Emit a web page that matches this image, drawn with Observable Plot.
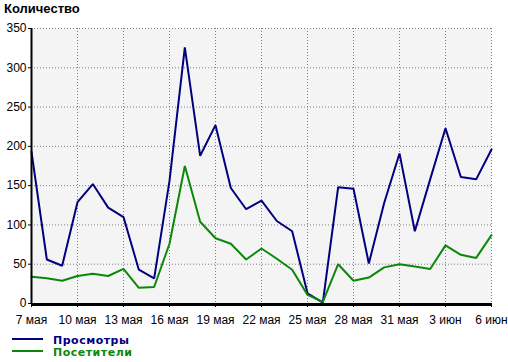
<!DOCTYPE html>
<html>
<head>
<meta charset="utf-8">
<script src="https://cdn.jsdelivr.net/npm/d3@7"></script>
<script src="https://cdn.jsdelivr.net/npm/@observablehq/plot@0.6"></script>
<style>
  html, body { margin: 0; padding: 0; background: #fff; }
  #wrap { position: relative; width: 508px; height: 362px; }
  #title { position: absolute; left: 4px; top: 1px; font: bold 13px "Liberation Sans", Arial, sans-serif; color: #000; }
  .leg { position: absolute; left: 12px; width: 31px; height: 0; border-top: 2px solid; }
  .legt { position: absolute; left: 53px; font: bold 11px "DejaVu Sans", Verdana, sans-serif; letter-spacing: 0.5px; line-height: 11px; height: 11px; }
</style>
</head>
<body>
<div id="wrap"></div>
<script>
const startDate = "2010-05-07";
const endDate = "2010-06-06";
const seriesNames = ["Просмотры", "Посетители"];
const seriesColors = ["#000080", "#0b870b"];
const views = [193,56,48,129,152,122,110,43,32,156,326,188,227,147,120,131,105,92,13,1,148,146,51,128,191,92,158,223,161,158,196];
const visitors = [34,32,29,35,38,35,44,20,21,76,175,104,83,76,56,70,57,43,11,2,50,29,33,46,50,47,44,74,62,58,87];
const yTicks = [0,50,100,150,200,250,300,350];
const xTickLabels = ["7 мая","10 мая","13 мая","16 мая","19 мая","22 мая","25 мая","28 мая","31 мая","3 июн","6 июн"];
const titleText = "Количество";

const start = new Date(startDate), end = new Date(endDate);
const days = d3.utcDay.range(start, d3.utcDay.offset(end, 1));
const xTicks = xTickLabels.map((_, i) => d3.utcDay.offset(start, i * 3));
const tickLabelMap = new Map(xTicks.map((d, i) => [+d, xTickLabels[i]]));

const rows = [];
days.forEach((d, i) => {
  rows.push({date: d, value: views[i], series: seriesNames[0]});
  rows.push({date: d, value: visitors[i], series: seriesNames[1]});
});

const chart = Plot.plot({
  width: 508,
  height: 362,
  marginLeft: 31,
  marginRight: 17,
  marginTop: 28,
  marginBottom: 59,
  style: {fontFamily: "'Liberation Sans', Arial, sans-serif", fontSize: "12px", background: "white", overflow: "visible", color: "#000"},
  x: {type: "utc", domain: [start, end]},
  y: {domain: [0, 350]},
  color: {domain: seriesNames, range: seriesColors},
  marks: [
    Plot.frame({fill: "#f4f4f4", stroke: null}),
    Plot.gridY(yTicks.slice(1), {stroke: "#808080", strokeOpacity: 1, strokeDasharray: "1,2"}),
    Plot.gridX(xTicks.slice(1), {stroke: "#808080", strokeOpacity: 1, strokeDasharray: "1,2"}),
    Plot.line(rows, {x: "date", y: "value", z: "series", stroke: "series", strokeWidth: 2, strokeLinejoin: "miter"}),
    Plot.ruleX([start], {stroke: "#000", strokeWidth: 2}),
    Plot.ruleY([0], {stroke: "#000", strokeWidth: 3, dy: 1}),
    Plot.axisY(yTicks, {tickSize: 3, tickPadding: 2, stroke: "#000", fill: "#000", fontSize: 12, label: null}),
    Plot.axisX(xTicks, {tickSize: 4, tickPadding: 8, stroke: "#000", fill: "#000", fontSize: 12, label: null, tickFormat: d => tickLabelMap.get(+d)})
  ]
});

const wrap = document.getElementById("wrap");
wrap.appendChild(chart);
chart.style.position = "absolute";
chart.style.left = "0px";
chart.style.top = "0px";

const title = document.createElement("div");
title.id = "title";
title.textContent = titleText;
wrap.appendChild(title);

seriesNames.forEach((name, i) => {
  const ln = document.createElement("div");
  ln.className = "leg";
  ln.style.top = (338 + i * 12) + "px";
  ln.style.borderColor = seriesColors[i];
  wrap.appendChild(ln);
  const t = document.createElement("div");
  t.className = "legt";
  t.style.top = (335 + i * 12) + "px";
  t.style.color = seriesColors[i];
  t.textContent = name;
  wrap.appendChild(t);
});
</script>
</body>
</html>
